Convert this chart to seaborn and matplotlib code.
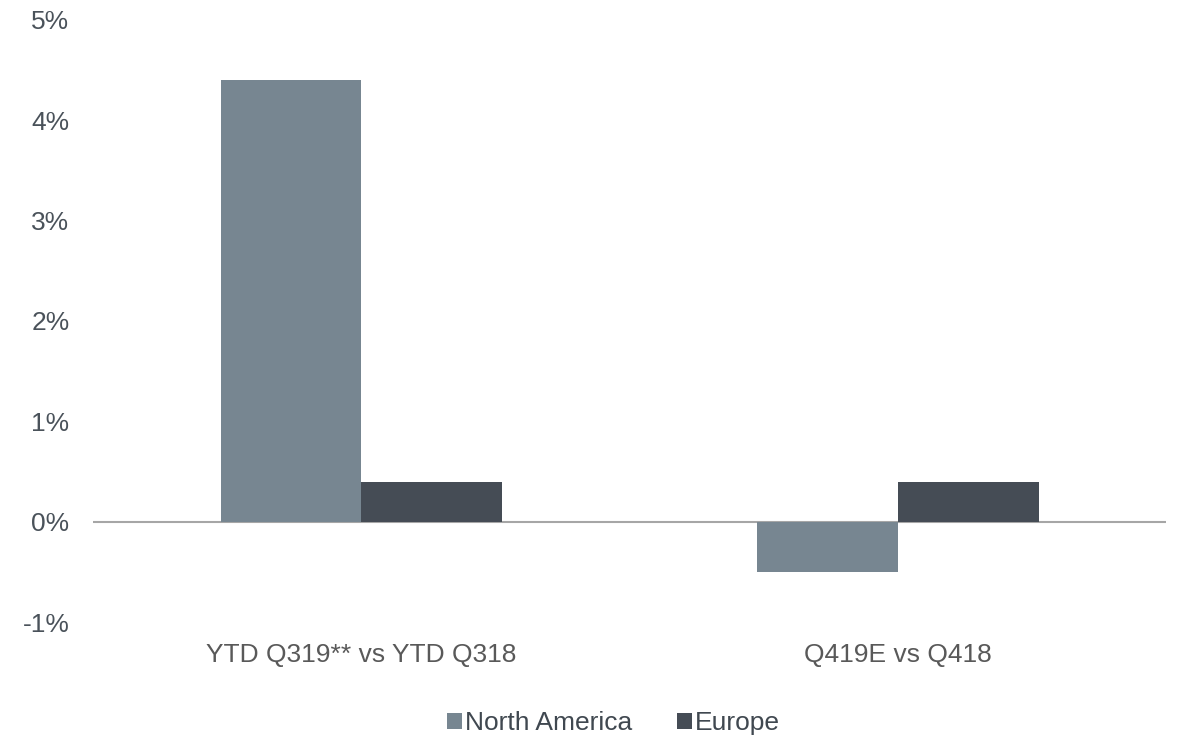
import pandas as pd
import matplotlib
matplotlib.use("Agg")
import matplotlib.pyplot as plt
import seaborn as sns
from matplotlib.ticker import FuncFormatter

# === DATOS ===
periodos = ["YTD Q319** vs YTD Q318", "Q419E vs Q418"]
regiones = ["North America", "Europe"]
north_america = [4.4, -0.5]
europe = [0.4, 0.4]

df = pd.DataFrame({
    "Periodo": periodos * 2,
    "Región": ["North America"] * 2 + ["Europe"] * 2,
    "Valor": north_america + europe,
})

# === ESTILO ===
sns.set_theme(style="white")
plt.rcParams["font.family"] = ["Liberation Sans", "DejaVu Sans"]

colores = {"North America": "#778691", "Europe": "#454c55"}

fig = plt.figure(figsize=(11.78, 7.37), dpi=100)
ax = fig.add_axes([0.079, 0.156, 0.911, 0.817])

sns.barplot(
    data=df, x="Periodo", y="Valor", hue="Región",
    hue_order=regiones, palette=colores, width=0.524,
    saturation=1, ax=ax, edgecolor="none",
)

ax.axhline(0, color="#a6a6a6", linewidth=1.5, zorder=0)
ax.set_ylim(-1, 5)
ax.set_yticks(range(-1, 6))
ax.yaxis.set_major_formatter(FuncFormatter(lambda v, p: f"{v:.0f}%"))
ax.set_xlabel("")
ax.set_ylabel("")
ax.tick_params(axis="y", length=0, pad=17, labelsize=19, labelcolor="#4a525a")
ax.tick_params(axis="x", length=0, pad=15, labelsize=19, labelcolor="#595959")
sns.despine(ax=ax, left=True, bottom=True, top=True, right=True)

# leyenda abajo, centrada
ax.legend(
    loc="center", bbox_to_anchor=(0.485, -0.168), ncol=2, frameon=False,
    fontsize=19, handlelength=0.58, handleheight=0.58, handletextpad=0.1,
    columnspacing=1.7, labelcolor="#404850",
)

fig.savefig("out.png", dpi=100)
